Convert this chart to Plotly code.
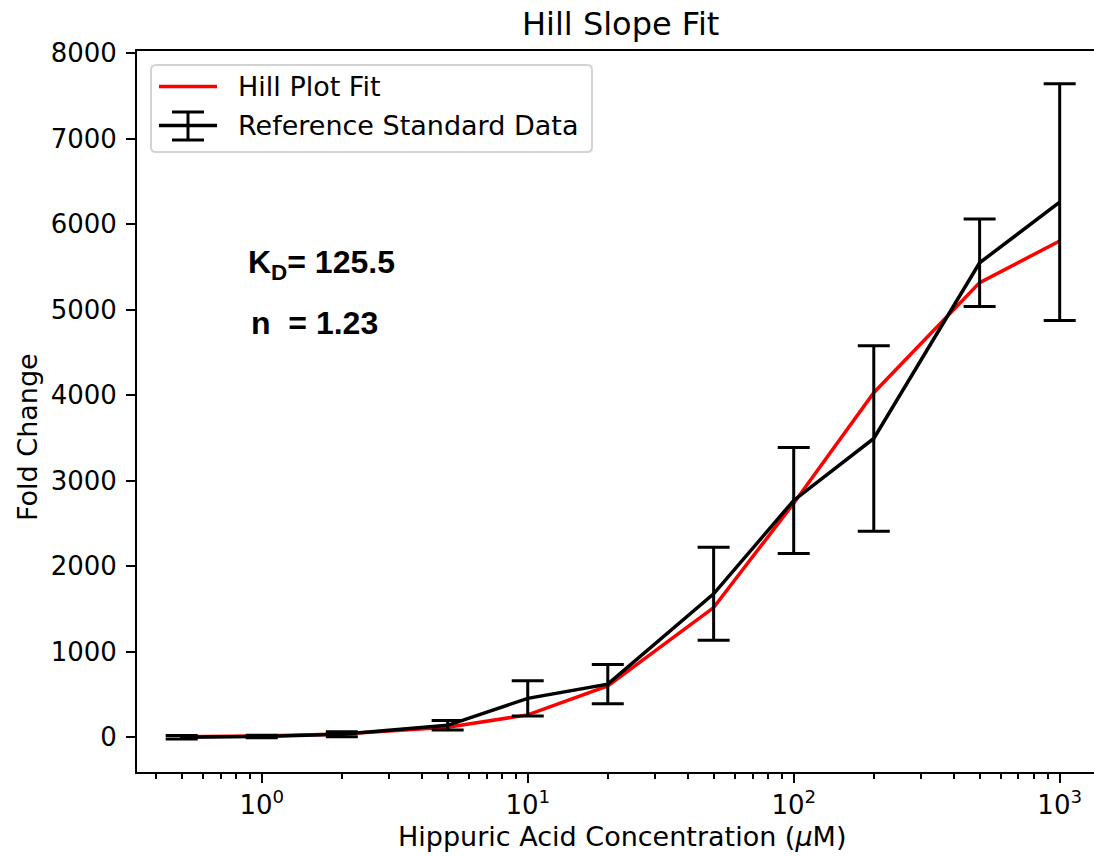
import plotly.graph_objects as go

# ---- data ----
concentration = [0.5, 1, 2, 5, 10, 20, 50, 100, 200, 500, 1000]
fold_change = [0, 10, 35, 140, 455, 622, 1678, 2770, 3495, 5550, 6260]
fold_error = [20, 15, 30, 55, 205, 230, 544, 620, 1085, 512, 1385]
hill_fit = [5, 15, 38, 117, 262, 600, 1517, 2737, 4030, 5318, 5805]

x_tick_vals = [1, 10, 100, 1000]
x_tick_text = ["10<sup>0</sup>", "10<sup>1</sup>", "10<sup>2</sup>", "10<sup>3</sup>"]
y_tick_vals = [0, 1000, 2000, 3000, 4000, 5000, 6000, 7000, 8000]
y_tick_text = [str(v) for v in y_tick_vals]
minor_vals = [m * 10 ** e for e in range(-1, 3) for m in range(2, 10) if m * 10 ** e > 0.3]

legend_labels = ["Hill Plot Fit", "Reference Standard Data"]
title_text = "Hill Slope Fit"
x_label = "Hippuric Acid Concentration (<i>μ</i>M)"
y_label = "Fold Change"
kd_text = "<b>K<sub>D</sub>= 125.5</b>"
n_text = "<b>n\u00a0 = 1.23</b>"

W, H = 1094, 856
L, R, T, B = 137, 0, 51, 84
PW, PH = W - L - R, H - T - B


def px(xp):
    return (xp - L) / PW


def py(yp):
    return (H - B - yp) / PH


FONT = "DejaVu Sans"
TICK = 26

fig = go.Figure()
fig.add_trace(go.Scatter(
    x=concentration, y=hill_fit, mode="lines",
    line=dict(color="#ff0000", width=3.5), name=legend_labels[0], showlegend=False,
))
fig.add_trace(go.Scatter(
    x=concentration, y=fold_change, mode="lines",
    line=dict(color="black", width=3.5), name=legend_labels[1], showlegend=False,
    error_y=dict(type="data", array=fold_error, visible=True, thickness=3, width=16, color="black"),
))

# custom legend (matplotlib style)
r = 5
x0, x1, y0, y1 = px(151), px(592), py(152), py(65)
rx, ry = r / PW, r / PH
path = (f"M {x0+rx},{y1} L {x1-rx},{y1} Q {x1},{y1} {x1},{y1-ry} "
        f"L {x1},{y0+ry} Q {x1},{y0} {x1-rx},{y0} L {x0+rx},{y0} "
        f"Q {x0},{y0} {x0},{y0+ry} L {x0},{y1-ry} Q {x0},{y1} {x0+rx},{y1} Z")
shapes = [
    dict(type="path", xref="paper", yref="paper", path=path,
         line=dict(color="#d3d3d3", width=2), fillcolor="rgba(255,255,255,0.8)", layer="above"),
    dict(type="line", xref="paper", yref="paper", x0=px(159), x1=px(217), y0=py(86.5), y1=py(86.5),
         line=dict(color="#ff0000", width=3.5), layer="above"),
    dict(type="line", xref="paper", yref="paper", x0=px(159), x1=px(217), y0=py(125.5), y1=py(125.5),
         line=dict(color="black", width=3.5), layer="above"),
    dict(type="line", xref="paper", yref="paper", x0=px(188), x1=px(188), y0=py(112), y1=py(140),
         line=dict(color="black", width=3), layer="above"),
    dict(type="line", xref="paper", yref="paper", x0=px(172), x1=px(204), y0=py(112), y1=py(112),
         line=dict(color="black", width=3), layer="above"),
    dict(type="line", xref="paper", yref="paper", x0=px(172), x1=px(204), y0=py(140), y1=py(140),
         line=dict(color="black", width=3), layer="above"),
]

annotations = [
    dict(text=legend_labels[0], xref="paper", yref="paper", x=px(236), y=py(87),
         xanchor="left", yanchor="middle", showarrow=False, font=dict(family=FONT, size=27, color="black")),
    dict(text=legend_labels[1], xref="paper", yref="paper", x=px(236), y=py(126),
         xanchor="left", yanchor="middle", showarrow=False, font=dict(family=FONT, size=27, color="black")),
    dict(text=kd_text, xref="paper", yref="paper", x=px(246), y=py(264),
         xanchor="left", yanchor="middle", showarrow=False,
         font=dict(family="Liberation Sans", size=32, color="black")),
    dict(text=n_text, xref="paper", yref="paper", x=px(249), y=py(323),
         xanchor="left", yanchor="middle", showarrow=False,
         font=dict(family="Liberation Sans", size=32, color="black")),
    dict(text=title_text, xref="paper", yref="paper", x=px(620), y=py(24),
         xanchor="center", yanchor="middle", showarrow=False,
         font=dict(family=FONT, size=32, color="black")),
    dict(text=x_label, xref="paper", yref="paper", x=px(622), y=py(836),
         xanchor="center", yanchor="middle", showarrow=False,
         font=dict(family=FONT, size=27, color="black")),
    dict(text=y_label, xref="paper", yref="paper", x=px(27), y=py(437),
         xanchor="center", yanchor="middle", showarrow=False, textangle=-90,
         font=dict(family=FONT, size=27, color="black")),
]

fig.update_layout(
    width=W, height=H,
    margin=dict(l=L, r=R, t=T, b=B, pad=0),
    paper_bgcolor="white", plot_bgcolor="white",
    shapes=shapes, annotations=annotations,
    showlegend=False,
    font=dict(family=FONT, size=TICK, color="black"),
)
fig.update_xaxes(
    type="log", range=[-0.469, 3.129],
    tickmode="array", tickvals=x_tick_vals, ticktext=x_tick_text,
    ticks="outside", ticklen=9, tickwidth=2, tickcolor="black",
    showline=True, linecolor="black", linewidth=2, mirror=True,
    showgrid=False, zeroline=False,
    tickfont=dict(family=FONT, size=TICK, color="black"),
    minor=dict(tickmode="array", tickvals=minor_vals, ticks="outside", ticklen=5,
               tickwidth=1.5, tickcolor="black", showgrid=False),
)
fig.update_yaxes(
    range=[-406, 8027],
    tickmode="array", tickvals=y_tick_vals, ticktext=y_tick_text,
    ticks="outside", ticklen=9, tickwidth=2, tickcolor="black",
    showline=True, linecolor="black", linewidth=2, mirror=False,
    showgrid=False, zeroline=False,
    tickfont=dict(family=FONT, size=TICK, color="black"),
    ticklabelstandoff=4,
)

fig.write_html(
    "out.html",
    config={"displayModeBar": False},
    post_script="document.body.style.margin='0';document.body.style.overflow='hidden';",
)
